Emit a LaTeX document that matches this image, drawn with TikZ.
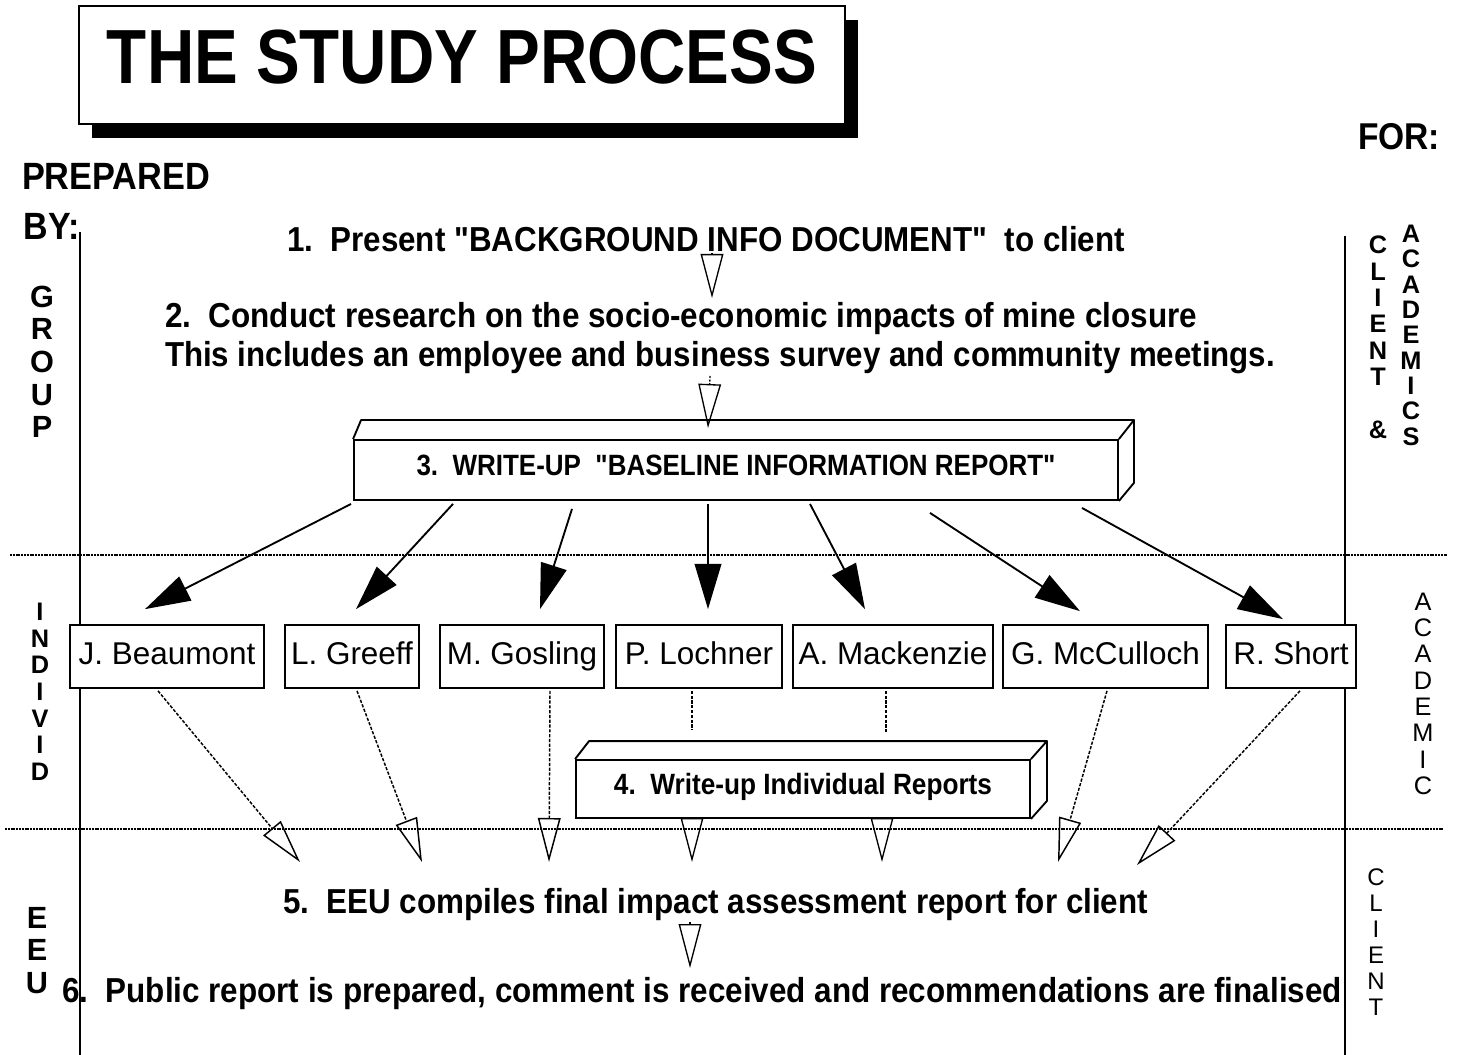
\documentclass[tikz,border=0pt]{standalone}
\usepackage{fontspec}
\setmainfont{Liberation Sans}
\newfontfamily\lib{Liberation Sans}
\usepackage{graphicx}
\usetikzlibrary{arrows.meta}
\newlength\pxu \setlength\pxu{0.75pt}
\newcommand\fitw[3]{\resizebox{#1\pxu}{\height}{\lib\fontsize{#2}{#2}\selectfont\bfseries #3}}
\begin{document}
\begin{tikzpicture}[x=0.75pt,y=-0.75pt,
  txt/.style={inner sep=0pt, outer sep=0pt},
  person/.style={draw, fill=white, line width=1.3pt, minimum height=47.25pt, inner sep=0pt, text height=17.2pt, text depth=5pt, font=\fontsize{23.6pt}{24pt}\selectfont},
  box3d/.style={draw, fill=white, line width=1.4pt, inner sep=0pt, text height=8.25pt, text depth=0pt},
  side3d/.style={line width=1.4pt, line join=round},
  farrow/.style={line width=1.4pt, -{Triangle[length=34pt,width=20pt]}},
  oarrow/.style={line width=1pt, -{Triangle[open,length=33pt,width=17pt]}},
  dotconn/.style={oarrow, line width=1.1pt, dash pattern=on 2.4pt off 1.2pt},
  stub/.style={line width=1.1pt, dash pattern=on 2.4pt off 1.2pt},
  hdot/.style={line width=2pt, dash pattern=on 1.5pt off 0.6pt},
  vline/.style={line width=1pt},
  column/.style={txt, anchor=north, align=center}
]
\useasboundingbox (0,0) rectangle (1457,1055);

% frame lines
\draw[vline] (80,232) -- (80,1055);
\draw[vline] (1345,236) -- (1345,1055);
\draw[hdot] (10,555) -- (1447,555);
\draw[hdot] (5,829) -- (1443,829);

% title
\fill (92,20) rectangle (858,138);
\node[draw, fill=white, line width=1.5pt, minimum width=574.5pt, minimum height=88.5pt, inner sep=0pt] (title) at (462,65) {};
\node[txt, anchor=base] (titletxt) at (462,84) {\fitw{710}{57.6pt}{THE STUDY PROCESS}};

\node[txt, anchor=base west] (for) at (1358,150) {\fitw{82}{28pt}{FOR:}};
\node[txt, anchor=base west] (prep) at (22,190) {\fitw{188}{28.5pt}{PREPARED}};
\node[txt, anchor=base west] (by) at (24,240) {\fitw{56}{28.5pt}{BY:}};

% side columns
\node[column, font=\bfseries\fontsize{23pt}{24.4pt}\selectfont] (grp) at (42,286) {G\\R\\O\\U\\P};
\node[column, font=\bfseries\fontsize{19pt}{20pt}\selectfont] (ind) at (40,603) {I\\N\\D\\I\\V\\I\\D};
\node[column, font=\bfseries\fontsize{23pt}{24.4pt}\selectfont] (eeu) at (37,907) {E\\E\\U};
\node[column, font=\bfseries\fontsize{19pt}{19.8pt}\selectfont] (cl1) at (1378,236) {C\\L\\I\\E\\N\\T\\[19.8pt]\&};
\node[column, font=\bfseries\fontsize{19pt}{19pt}\selectfont] (acs) at (1411,225) {A\\C\\A\\D\\E\\M\\I\\C\\S};
\node[column, font=\fontsize{19pt}{19.7pt}\selectfont] (acd) at (1423,593) {A\\C\\A\\D\\E\\M\\I\\C};
\node[column, font=\fontsize{18pt}{19.5pt}\selectfont] (cl2) at (1376,869) {C\\L\\I\\E\\N\\T};

% steps text
\node[txt, anchor=base west] (l1) at (287,252) {\fitw{838}{26pt}{1.\ \ Present "BACKGROUND INFO DOCUMENT"\ \ to client}};
\node[txt, anchor=base west] (l2a) at (165,328) {\fitw{1032}{26pt}{2.\ \ Conduct research on the socio-economic impacts of mine closure}};
\node[txt, anchor=base west] (l2b) at (165,367) {\fitw{1110}{26pt}{This includes an employee and business survey and community meetings.}};
\node[txt, anchor=base west] (l5) at (283,913) {\fitw{865}{26pt}{5.\ \ EEU compiles final impact assessment report for client}};
\node[txt, anchor=base west] (l6) at (62,1002) {\fitw{1280}{26pt}{6.\ \ Public report is prepared, comment is received and recommendations are finalised}};

% box 3
\node[box3d, minimum width=573pt, minimum height=45pt] (b3) at (736,470) {\fitw{639}{22pt}{3.\ \ WRITE-UP\ \ "BASELINE INFORMATION REPORT"}};
\draw[side3d] (b3.north west) -- ++(8,-19) -- ([shift={(15,-19)}]b3.north east) -- (b3.north east);
\draw[side3d] ([shift={(15,-19)}]b3.north east) -- ([shift={(15,-18)}]b3.south east) -- (b3.south east);

% persons
\node[person, minimum width=145.5pt] (jb) at (167,656.5) {J. Beaumont};
\node[person, minimum width=100.5pt] (lg) at (352,656.5) {L. Greeff};
\node[person, minimum width=123pt] (mg) at (522,656.5) {M. Gosling};
\node[person, minimum width=124.5pt] (pl) at (699,656.5) {P. Lochner};
\node[person, minimum width=150pt] (am) at (893,656.5) {A. Mackenzie};
\node[person, minimum width=153.75pt] (gm) at (1105.5,656.5) {G. McCulloch};
\node[person, minimum width=97.5pt] (rs) at (1291,656.5) {R. Short};

% box 4
\node[box3d, minimum width=340.5pt, minimum height=43.5pt] (b4) at (803,789) {\fitw{378}{22pt}{4.\ \ Write-up Individual Reports}};
\draw[side3d] (b4.north west) -- ++(14,-18) -- ([shift={(16,-18)}]b4.north east) -- (b4.north east);
\draw[side3d] ([shift={(16,-18)}]b4.north east) -- ([shift={(16,-18)}]b4.south east) -- (b4.south east);

% coordinates
\coordinate (t1a) at (712,253);
\coordinate (t1b) at (712,298);
\coordinate (t2a) at (710,376);
\coordinate (t2b) at (708,428);
\coordinate (e1) at (300,862);
\coordinate (e2) at (422,862);
\coordinate (e3) at (549,862);
\coordinate (e4) at (692,862);
\coordinate (e5) at (882,862);
\coordinate (e6) at (1058,862);
\coordinate (e7) at (1137,865);
\coordinate (s4) at (692,730);
\coordinate (s5) at (886,732);
\coordinate (t5a) at (690,922);
\coordinate (t5b) at (690,968);

% open arrows between steps
\draw[oarrow] (t1a) -- (t1b);
\draw[oarrow, dash pattern=on 1.5pt off 1.2pt] (t2a) -- (t2b);
\draw[oarrow] (t5a) -- (t5b);

% filled arrows from box 3
\draw[farrow] ([shift={(-2,3)}]b3.south west) -- ([shift={(-22,-15)}]jb.north);
\draw[farrow] ([shift={(-283,3)}]b3.south) -- ([shift={(4,-15)}]lg.north);
\draw[farrow] ([shift={(-164,8)}]b3.south) -- ([shift={(18,-15)}]mg.north);
\draw[farrow] ([shift={(-28,3)}]b3.south) -- ([shift={(9,-15)}]pl.north);
\draw[farrow] ([shift={(74,3)}]b3.south) -- ([shift={(-28,-15)}]am.north);
\draw[farrow] ([shift={(194,12)}]b3.south) -- ([shift={(-25.5,-13)}]gm.north);
\draw[farrow] ([shift={(346,7)}]b3.south) -- ([shift={(-8,-5)}]rs.north);

% dotted connectors to step 5
\draw[dotconn] ([shift={(-9,2)}]jb.south) -- (e1);
\draw[dotconn] ([shift={(5,2)}]lg.south) -- (e2);
\draw[dotconn] ([shift={(28,2)}]mg.south) -- (e3);
\draw[stub] ([shift={(-7,2)}]pl.south) -- (s4);
\draw[stub] ([shift={(-7,2)}]am.south) -- (s5);
\draw[oarrow] ([shift={(-111,0)}]b4.south) -- (e4);
\draw[oarrow] ([shift={(79,0)}]b4.south) -- (e5);
\draw[dotconn] ([shift={(1.5,2)}]gm.south) -- (e6);
\draw[dotconn] ([shift={(9,2)}]rs.south) -- (e7);
\end{tikzpicture}
\end{document}
